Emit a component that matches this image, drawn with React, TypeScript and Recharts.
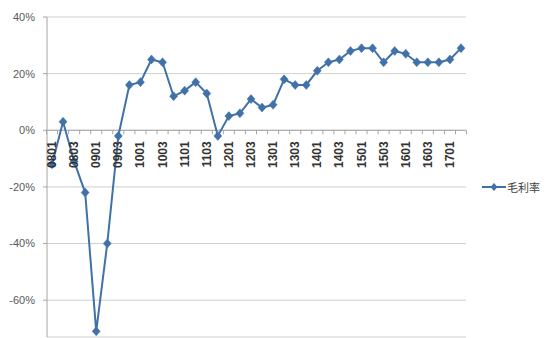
import { LineChart, Line, XAxis, YAxis, CartesianGrid, ReferenceLine, Legend } from "recharts";

// quarters, yymm-style labels as on the source chart
const quarters = [
  "0801", "0802", "0803", "0804",
  "0901", "0902", "0903", "0904",
  "1001", "1002", "1003", "1004",
  "1101", "1102", "1103", "1104",
  "1201", "1202", "1203", "1204",
  "1301", "1302", "1303", "1304",
  "1401", "1402", "1403", "1404",
  "1501", "1502", "1503", "1504",
  "1601", "1602", "1603", "1604",
  "1701", "1702",
];

// gross margin, %
const grossMargin = [
  -12, 3, -11, -22,
  -71, -40, -2, 16,
  17, 25, 24, 12,
  14, 17, 13, -2,
  5, 6, 11, 8,
  9, 18, 16, 16,
  21, 24, 25, 28,
  29, 29, 24, 28,
  27, 24, 24, 24,
  25, 29,
];

const yTicks = [-60, -40, -20, 0, 20, 40];
const Y_MIN = -73;
const Y_MAX = 40;

const W = 555;
const H = 338;
const X_AXIS_H = 1;
const M = { top: 17, right: 89, bottom: 0, left: 0 };
const PLOT_H = H - M.top - M.bottom - X_AXIS_H;
const ZERO_Y = M.top + ((Y_MAX - 0) / (Y_MAX - Y_MIN)) * PLOT_H;
const HALF_STEP = (W - M.right - 47) / quarters.length / 2;

const BLUE = "#4071a8";

const data = quarters.map((q, i) => ({ q, v: grossMargin[i] }));

function Diamond(props: any) {
  const { cx, cy } = props;
  if (cx == null || cy == null) return null;
  return (
    <polygon
      points={`${cx},${cy - 4.5} ${cx + 4},${cy} ${cx},${cy + 4.5} ${cx - 4},${cy}`}
      fill={BLUE}
      stroke={BLUE}
      strokeWidth={0.5}
    />
  );
}

// labels sit under the zero line, like the source, every second quarter
function renderQuarterTick(props: any) {
  const { x, index, payload } = props;
  const last = index === quarters.length - 1;
  const ty = ZERO_Y + 11;
  return (
    <g key={`qt-${index}`}>
      <line x1={x - HALF_STEP} x2={x - HALF_STEP} y1={ZERO_Y} y2={ZERO_Y + 4} stroke="#a6a6a6" />
      {last && <line x1={x + HALF_STEP} x2={x + HALF_STEP} y1={ZERO_Y} y2={ZERO_Y + 4} stroke="#a6a6a6" />}
      {index % 2 === 0 && (
        <text
          x={x}
          y={ty}
          transform={`rotate(-90 ${x} ${ty})`}
          textAnchor="end"
          dominantBaseline="central"
          fontSize={12}
          fontWeight="bold"
          fill="#333"
          fontFamily="'Liberation Sans', Arial, sans-serif"
        >
          {payload.value}
        </text>
      )}
    </g>
  );
}

function LegendBox() {
  return (
    <div style={{ display: "flex", alignItems: "center", fontSize: 11, color: "#404040", fontFamily: "'Noto Sans CJK SC', sans-serif" }}>
      <svg width={24} height={10} style={{ marginRight: 1 }}>
        <line x1={0} x2={24} y1={5} y2={5} stroke={BLUE} strokeWidth={2} />
        <polygon points="12,1 15.5,5 12,9 8.5,5" fill={BLUE} />
      </svg>
      <span>毛利率</span>
    </div>
  );
}

export default function App() {
  return (
    <div style={{ position: "absolute", left: 0, top: 0, background: "#fff" }}>
      <LineChart width={W} height={H} data={data} margin={M}>
        <CartesianGrid vertical={false} stroke="#cfcfcf" />
        <XAxis
          dataKey="q"
          height={X_AXIS_H}
          axisLine={false}
          tickLine={false}
          interval={0}
          padding={{ left: 5, right: 5 }}
          tick={renderQuarterTick}
        />
        <YAxis
          width={47}
          domain={[Y_MIN, Y_MAX]}
          ticks={yTicks}
          allowDataOverflow
          tickFormatter={(v: number) => `${v}%`}
          tick={{ fontSize: 11, fill: "#595959", fontFamily: "'Liberation Sans', Arial, sans-serif" }}
          axisLine={{ stroke: "#a6a6a6" }}
          tickLine={{ stroke: "#a6a6a6" }}
          tickSize={4}
          tickMargin={8}
        />
        <ReferenceLine y={0} stroke="#a6a6a6" />
        <Legend
          layout="horizontal"
          verticalAlign="middle"
          align="center"
          wrapperStyle={{ left: 482, top: 179, width: 72 }}
          content={<LegendBox />}
        />
        <Line
          dataKey="v"
          name="毛利率"
          stroke={BLUE}
          strokeWidth={2}
          dot={<Diamond />}
          activeDot={false}
          isAnimationActive={false}
        />
      </LineChart>
    </div>
  );
}
